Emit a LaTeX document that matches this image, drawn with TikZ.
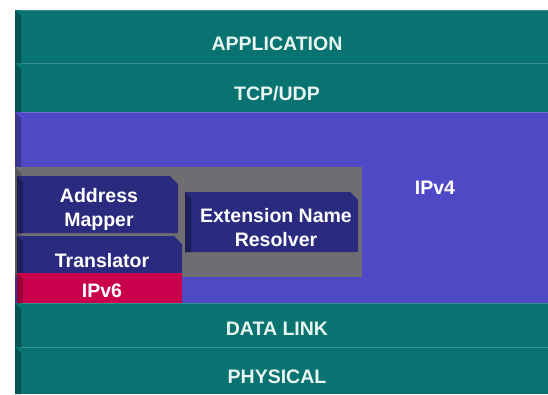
\documentclass[tikz,border=0pt]{standalone}
\usepackage{fontspec}
\setmainfont{Liberation Sans}
\usepackage{xcolor}
\usepackage{tikz}
\definecolor{ipTeal}{HTML}{097371}
\definecolor{ipPurple}{HTML}{5049C5}
\definecolor{ipGray}{HTML}{6F6D72}
\definecolor{ipNavy}{HTML}{2A2A7E}
\definecolor{ipRed}{HTML}{C9004B}
\definecolor{ipInk}{HTML}{E9F5F1}
\tikzset{
  ip diagram/.style={x=1pt, y=-1pt,
    font=\bfseries\fontsize{19.5}{23.5}\selectfont, text=ipInk},
  ip label/.style={anchor=base, align=center, inner sep=0pt},
  ip box label/.style={ip label, text=white}
}
\begin{document}
\begin{tikzpicture}[ip diagram]
\useasboundingbox (0,0) rectangle (548,394);
% protocol layers, darker left face
\foreach \t/\b/\c in {10/63/ipTeal,63/112/ipTeal,112/303/ipPurple,303/347/ipTeal,347/394/ipTeal}{
  \fill[\c] (15,\t) rectangle (548,\b);
  \draw[\c!80!white,line width=1pt] (21,\t+0.5) -- (548,\t+0.5);
  \fill[\c!72!black] (15,\t) -- (21,\t+6) -- (21,\b) -- (15,\b) -- cycle;
}
% dual stack holder
\fill[ipGray] (15,167) rectangle (362,277);
\fill[ipGray!78!black] (15,167) -- (21,173) -- (21,277) -- (15,277) -- cycle;
\foreach \l/\t/\r/\b in {17/176/178/233,17/236/182/273,185/192/358/252}{
  \fill[ipNavy] (\l,\t) -- (\r-8,\t) -- (\r,\t+8) -- (\r,\b) -- (\l,\b) -- cycle;
  \fill[ipNavy!70!black] (\l,\t) -- (\l+6,\t+6) -- (\l+6,\b) -- (\l,\b) -- cycle;
}
\fill[ipRed] (17,273) rectangle (182,303);
\fill[ipRed!75!black] (17,273) -- (23,279) -- (23,303) -- (17,303) -- cycle;
\node[ip label] (application) at (277,50) {APPLICATION};
\node[ip label] (transport) at (277,100) {TCP/UDP};
\node[ip box label] (ipv4) at (435,194) {IPv4};
\node[ip box label] (mapper) at (99,226) {Address\\Mapper};
\node[ip box label] (translator) at (102,267) {Translator};
\node[ip box label] (ipv6) at (102,297) {IPv6};
\node[ip box label] (resolver) at (276,246) {Extension Name\\Resolver};
\node[ip label] (datalink) at (277,335) {DATA LINK};
\node[ip label] (physical) at (277,383) {PHYSICAL};
\end{tikzpicture}
\end{document}
